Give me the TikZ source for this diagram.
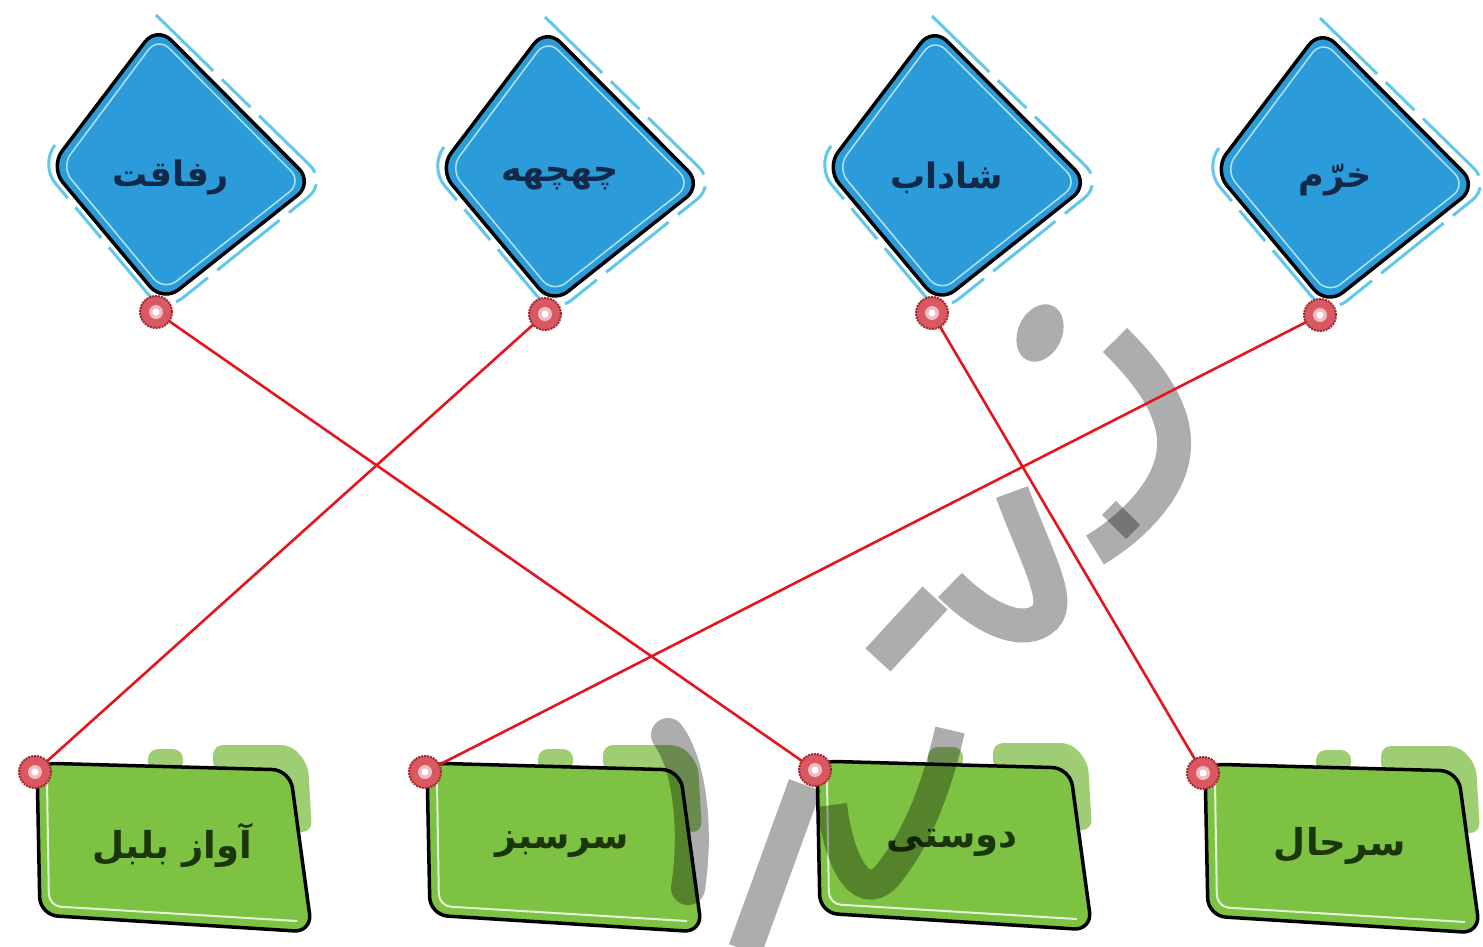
\documentclass[tikz,border=0pt]{standalone}
\usepackage{fontspec}
\newfontfamily\fa[Script=Arabic]{DejaVu Sans}
\TeXXeTstate=1
\definecolor{dblue}{HTML}{2B9BD9}
\definecolor{dcyan}{HTML}{62C8EA}
\definecolor{dnavy}{HTML}{13294A}
\definecolor{bgreen}{HTML}{7DC242}
\definecolor{lgreen}{HTML}{9FCD74}
\definecolor{tgreen}{HTML}{1B350C}
\definecolor{rline}{HTML}{E3161E}
\definecolor{rdot}{HTML}{DA5862}
\definecolor{rdotd}{HTML}{9E2A35}
\tikzset{
 dshape/.style={fill=dblue, draw=black, line width=3.5pt, rounded corners=20pt, line join=round},
 dghost/.style={draw=dcyan, line width=3pt, rounded corners=24pt, dash pattern=on 80pt off 12pt on 40pt off 12pt},
 dinner/.style={draw=dcyan!50!white, line width=1.5pt, rounded corners=16pt},
 dtext/.style={text=dnavy, font=\fa\bfseries\fontsize{35}{40}\selectfont, inner sep=0pt},
 gshape/.style={fill=bgreen, draw=black, line width=3.5pt, rounded corners=18pt, line join=round},
 gback/.style={fill=lgreen, rounded corners=10pt},
 ghigh/.style={draw=white, draw opacity=0.8, line width=2pt, rounded corners=12pt},
 gtext/.style={text=tgreen, font=\fa\bfseries\fontsize{37}{42}\selectfont, inner sep=0pt},
 link/.style={draw=rline, line width=2.6pt},
 pin/.style={circle, fill=rdot, draw=rdotd, densely dotted, line width=2pt, minimum size=32pt, inner sep=0pt},
 wm/.style={draw=black, draw opacity=0.32, line width=34pt, line cap=butt},
}
\newcommand\kiteat[4]{%
 \begin{scope}[shift={(#2,#3)}]
  \draw[dghost] (-15,-154) -- (156,13) -- (-7,144) -- (-131,-4) -- (-116,-24);
  \draw[dshape] (-14,-143) -- (142,14) -- (-8,133) -- (-121,-2) -- cycle;
  \draw[dinner] (-13,-132) -- (131,13) -- (-7,122) -- (-110,-2) -- cycle;
  \node[dtext] (#1) at (0,8) {#4};
  \coordinate (#1p) at (-15,143);
 \end{scope}}
\newcommand\tabat[4]{%
 \begin{scope}[shift={(#2,#3)}]
  \fill[gback] (113,-23) rectangle (148,0);
  \fill[gback] (178,-27) -- (256,-27) -- (273,-8) -- (277,60) -- (250,60) -- (250,0) -- (178,0) -- cycle;
  \draw[gshape] (2,-9) -- (255,-2) -- (277,160) -- (5,143) -- cycle;
  \draw[ghigh] (12,10) -- (14,134) -- (262,149);
  \node[gtext] (#1) at (137,73) {#4};
  \coordinate (#1p) at (0,0);
 \end{scope}}
\newcommand\pinat[2]{%
 \node[pin] (#1) at (#2) {};
 \fill[white, opacity=0.6] (#1.center) circle (7pt);
 \fill[white] (#1.center) circle (3.5pt);}
\begin{document}
\begin{tikzpicture}[x=1pt,y=-1pt]
\fill[white] (0,0) rectangle (1483,946);
\useasboundingbox (0,0) rectangle (1483,946);
% top kites
\kiteat{d1}{171}{169}{\beginR رفاقت\endR}
\kiteat{d2}{560}{171}{\beginR چهچهه\endR}
\kiteat{d3}{947}{170}{\beginR شاداب\endR}
\kiteat{d4}{1335}{172}{\beginR خرّم\endR}
% bottom tabs
\tabat{g1}{35}{772}{\beginR آواز بلبل\endR}
\tabat{g2}{425}{772}{\beginR سرسبز\endR}
\tabat{g3}{815}{770}{\beginR دوستی\endR}
\tabat{g4}{1203}{773}{\beginR سرحال\endR}
% watermark
\fill[black, fill opacity=0.32, rotate around={-25:(1040,333)}] (1040,333) ellipse [x radius=22pt, y radius=30pt];
\draw[wm] (1115,340) .. controls (1160,385) and (1190,430) .. (1165,480) .. controls (1150,510) and (1120,535) .. (1095,550);
\draw[wm] (1128,513) -- (1114,527);
\draw[wm] (1012,492) .. controls (1035,555) and (1062,600) .. (1045,617) .. controls (1025,637) and (985,620) .. (950,585);
\draw[wm] (935,598) -- (878,660);
\draw[wm, line width=30pt] (832,805) .. controls (840,870) and (865,905) .. (890,872) .. controls (915,840) and (935,795) .. (950,730);
\draw[wm, line cap=round] (668,735) .. controls (690,765) and (697,830) .. (688,888);
\draw[wm] (805,785) -- (745,950);
% connectors
\draw[link] (d1p) -- (g3p);
\draw[link] (d2p) -- (g1p);
\draw[link] (d3p) -- (g4p);
\draw[link] (d4p) -- (g2p);
% pins
\pinat{d1pin}{d1p}
\pinat{d2pin}{d2p}
\pinat{d3pin}{d3p}
\pinat{d4pin}{d4p}
\pinat{g1pin}{g1p}
\pinat{g2pin}{g2p}
\pinat{g3pin}{g3p}
\pinat{g4pin}{g4p}
\end{tikzpicture}
\end{document}
